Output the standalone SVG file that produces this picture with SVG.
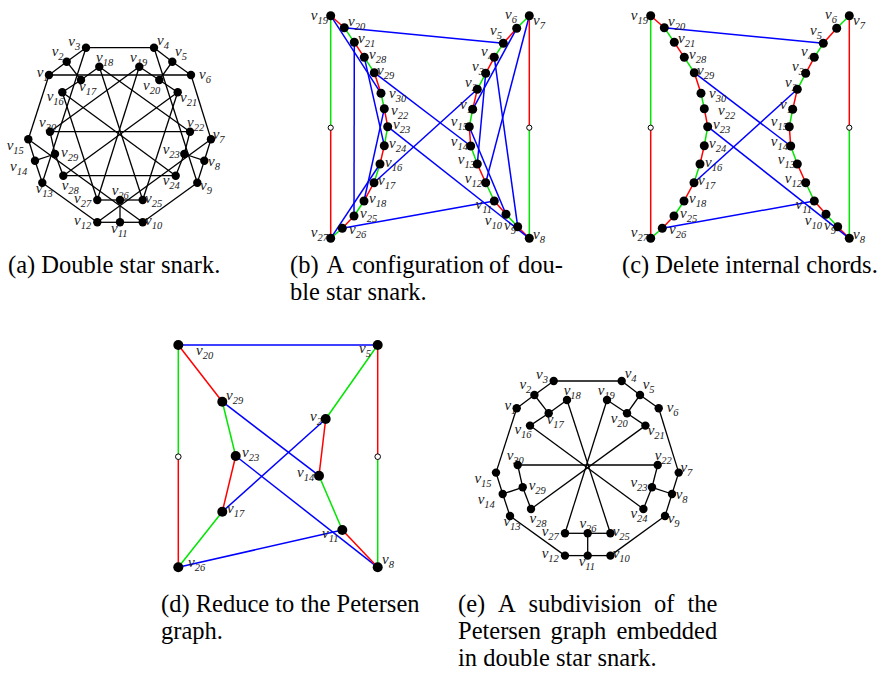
<svg xmlns="http://www.w3.org/2000/svg" width="882" height="677" viewBox="0 0 882 677">
<style>
.k line{stroke:#000;stroke-width:1.3}
.r{stroke:#ff0000;stroke-width:1.5}
.g{stroke:#00e600;stroke-width:1.5}
.b{stroke:#0000ff;stroke-width:1.5}
.n{fill:#000}
.nd{fill:#000}
.w{fill:#fff;stroke:#000;stroke-width:1}
.lb{font-family:"Liberation Serif","Times New Roman",serif;font-style:italic;font-size:15px;fill:#1a1a1a}
.sb{font-size:10.5px}
.le{text-anchor:end}
.cap{font-family:"Liberation Serif","Times New Roman",serif;font-size:24.5px;fill:#000}
</style>
<rect width="882" height="677" fill="#fff"/>

<!-- ============ (a) ============ -->
<g id="diagram-a">
<g id="a-edges" class="k">
<line x1="49" y1="75" x2="66.7" y2="61.7"/><line x1="66.7" y1="61.7" x2="86" y2="47.7"/><line x1="86" y1="47.7" x2="154" y2="47.7"/><line x1="154" y1="47.7" x2="172.3" y2="61.7"/><line x1="172.3" y1="61.7" x2="191" y2="75"/><line x1="191" y1="75" x2="211" y2="139.3"/><line x1="211" y1="139.3" x2="204.3" y2="160.7"/><line x1="204.3" y1="160.7" x2="197.3" y2="182.7"/><line x1="197.3" y1="182.7" x2="142.7" y2="222.3"/><line x1="142.7" y1="222.3" x2="120" y2="222.3"/><line x1="120" y1="222.3" x2="97.3" y2="222.3"/><line x1="97.3" y1="222.3" x2="42.3" y2="182.7"/><line x1="42.3" y1="182.7" x2="35" y2="160.7"/><line x1="35" y1="160.7" x2="28.3" y2="139.3"/><line x1="28.3" y1="139.3" x2="49" y2="75"/>
<line x1="66.7" y1="61.7" x2="81" y2="80"/><line x1="172.3" y1="61.7" x2="159.3" y2="80"/><line x1="204.3" y1="160.7" x2="184.3" y2="154"/><line x1="120" y1="222.3" x2="120" y2="200"/><line x1="35" y1="160.7" x2="55" y2="154"/>
<line x1="81" y1="80" x2="62.3" y2="92.3"/><line x1="81" y1="80" x2="99.3" y2="66.7"/><line x1="159.3" y1="80" x2="139.3" y2="66.7"/><line x1="159.3" y1="80" x2="177.7" y2="92.3"/><line x1="184.3" y1="154" x2="190" y2="131.7"/><line x1="184.3" y1="154" x2="175.7" y2="175.7"/><line x1="120" y1="200" x2="142.7" y2="200"/><line x1="120" y1="200" x2="97.3" y2="200"/><line x1="55" y1="154" x2="63.3" y2="175.7"/><line x1="55" y1="154" x2="50" y2="131.7"/>
<line x1="99.3" y1="66.7" x2="142.7" y2="200"/><line x1="177.7" y1="92.3" x2="63.3" y2="175.7"/><line x1="175.7" y1="175.7" x2="62.3" y2="92.3"/><line x1="97.3" y1="200" x2="139.3" y2="66.7"/><line x1="50" y1="131.7" x2="190" y2="131.7"/>
<line x1="49" y1="75" x2="191" y2="75"/><line x1="154" y1="47.7" x2="197.3" y2="182.7"/><line x1="211" y1="139.3" x2="97.3" y2="222.3"/><line x1="142.7" y1="222.3" x2="28.3" y2="139.3"/><line x1="42.3" y1="182.7" x2="86" y2="47.7"/><line x1="62.3" y1="92.3" x2="97.3" y2="200"/><line x1="139.3" y1="66.7" x2="50" y2="131.7"/><line x1="190" y1="131.7" x2="99.3" y2="66.7"/><line x1="142.7" y1="200" x2="177.7" y2="92.3"/><line x1="63.3" y1="175.7" x2="175.7" y2="175.7"/>
</g>
<g id="a-v1"><text class="lb" x="36.7" y="77">v<tspan class="sb" dy="4">1</tspan></text><circle class="n" cx="49" cy="75" r="4.2"/></g>
<g id="a-v2"><text class="lb" x="51.7" y="56">v<tspan class="sb" dy="4">2</tspan></text><circle class="n" cx="66.7" cy="61.7" r="4.2"/></g>
<g id="a-v3"><text class="lb" x="68.3" y="46">v<tspan class="sb" dy="4">3</tspan></text><circle class="n" cx="86" cy="47.7" r="4.2"/></g>
<g id="a-v4"><text class="lb" x="157" y="45">v<tspan class="sb" dy="4">4</tspan></text><circle class="n" cx="154" cy="47.7" r="4.2"/></g>
<g id="a-v5"><text class="lb" x="175" y="56">v<tspan class="sb" dy="4">5</tspan></text><circle class="n" cx="172.3" cy="61.7" r="4.2"/></g>
<g id="a-v6"><text class="lb" x="199" y="79">v<tspan class="sb" dy="4">6</tspan></text><circle class="n" cx="191" cy="75" r="4.2"/></g>
<g id="a-v7"><text class="lb" x="212.7" y="139">v<tspan class="sb" dy="4">7</tspan></text><circle class="n" cx="211" cy="139.3" r="4.2"/></g>
<g id="a-v8"><text class="lb" x="208" y="166">v<tspan class="sb" dy="4">8</tspan></text><circle class="n" cx="204.3" cy="160.7" r="4.2"/></g>
<g id="a-v9"><text class="lb" x="200" y="190">v<tspan class="sb" dy="4">9</tspan></text><circle class="n" cx="197.3" cy="182.7" r="4.2"/></g>
<g id="a-v10"><text class="lb" x="145" y="225">v<tspan class="sb" dy="4">10</tspan></text><circle class="n" cx="142.7" cy="222.3" r="4.2"/></g>
<g id="a-v11"><text class="lb" x="111" y="233">v<tspan class="sb" dy="4">11</tspan></text><circle class="n" cx="120" cy="222.3" r="4.2"/></g>
<g id="a-v12"><text class="lb" x="74" y="225">v<tspan class="sb" dy="4">12</tspan></text><circle class="n" cx="97.3" cy="222.3" r="4.2"/></g>
<g id="a-v13"><text class="lb" x="35.7" y="193">v<tspan class="sb" dy="4">13</tspan></text><circle class="n" cx="42.3" cy="182.7" r="4.2"/></g>
<g id="a-v14"><text class="lb" x="10" y="171">v<tspan class="sb" dy="4">14</tspan></text><circle class="n" cx="35" cy="160.7" r="4.2"/></g>
<g id="a-v15"><text class="lb" x="6.7" y="149.5">v<tspan class="sb" dy="4">15</tspan></text><circle class="n" cx="28.3" cy="139.3" r="4.2"/></g>
<g id="a-v16"><text class="lb" x="46.7" y="101">v<tspan class="sb" dy="4">16</tspan></text><circle class="n" cx="62.3" cy="92.3" r="4.2"/></g>
<g id="a-v17"><text class="lb" x="79" y="91">v<tspan class="sb" dy="4">17</tspan></text><circle class="n" cx="81" cy="80" r="4.2"/></g>
<g id="a-v18"><text class="lb" x="96" y="62">v<tspan class="sb" dy="4">18</tspan></text><circle class="n" cx="99.3" cy="66.7" r="4.2"/></g>
<g id="a-v19"><text class="lb" x="130" y="62">v<tspan class="sb" dy="4">19</tspan></text><circle class="n" cx="139.3" cy="66.7" r="4.2"/></g>
<g id="a-v20"><text class="lb" x="143" y="90">v<tspan class="sb" dy="4">20</tspan></text><circle class="n" cx="159.3" cy="80" r="4.2"/></g>
<g id="a-v21"><text class="lb" x="180" y="102">v<tspan class="sb" dy="4">21</tspan></text><circle class="n" cx="177.7" cy="92.3" r="4.2"/></g>
<g id="a-v22"><text class="lb" x="187" y="127">v<tspan class="sb" dy="4">22</tspan></text><circle class="n" cx="190" cy="131.7" r="4.2"/></g>
<g id="a-v23"><text class="lb" x="162.7" y="154">v<tspan class="sb" dy="4">23</tspan></text><circle class="n" cx="184.3" cy="154" r="4.2"/></g>
<g id="a-v24"><text class="lb" x="162.7" y="185">v<tspan class="sb" dy="4">24</tspan></text><circle class="n" cx="175.7" cy="175.7" r="4.2"/></g>
<g id="a-v25"><text class="lb" x="145" y="203">v<tspan class="sb" dy="4">25</tspan></text><circle class="n" cx="142.7" cy="200" r="4.2"/></g>
<g id="a-v26"><text class="lb" x="111.7" y="194.5">v<tspan class="sb" dy="4">26</tspan></text><circle class="n" cx="120" cy="200" r="4.2"/></g>
<g id="a-v27"><text class="lb" x="74" y="203">v<tspan class="sb" dy="4">27</tspan></text><circle class="n" cx="97.3" cy="200" r="4.2"/></g>
<g id="a-v28"><text class="lb" x="61.7" y="189.5">v<tspan class="sb" dy="4">28</tspan></text><circle class="n" cx="63.3" cy="175.7" r="4.2"/></g>
<g id="a-v29"><text class="lb" x="61" y="157">v<tspan class="sb" dy="4">29</tspan></text><circle class="n" cx="55" cy="154" r="4.2"/></g>
<g id="a-v30"><text class="lb" x="39" y="127">v<tspan class="sb" dy="4">30</tspan></text><circle class="n" cx="50" cy="131.7" r="4.2"/></g>
</g>

<!-- ============ (e) ============ -->
<g id="diagram-e" transform="translate(467.7,333.3)">
<g id="e-edges" class="k">
<line x1="49" y1="75" x2="66.7" y2="61.7"/><line x1="66.7" y1="61.7" x2="86" y2="47.7"/><line x1="86" y1="47.7" x2="154" y2="47.7"/><line x1="154" y1="47.7" x2="172.3" y2="61.7"/><line x1="172.3" y1="61.7" x2="191" y2="75"/><line x1="191" y1="75" x2="211" y2="139.3"/><line x1="211" y1="139.3" x2="204.3" y2="160.7"/><line x1="204.3" y1="160.7" x2="197.3" y2="182.7"/><line x1="197.3" y1="182.7" x2="142.7" y2="222.3"/><line x1="142.7" y1="222.3" x2="120" y2="222.3"/><line x1="120" y1="222.3" x2="97.3" y2="222.3"/><line x1="97.3" y1="222.3" x2="42.3" y2="182.7"/><line x1="42.3" y1="182.7" x2="35" y2="160.7"/><line x1="35" y1="160.7" x2="28.3" y2="139.3"/><line x1="28.3" y1="139.3" x2="49" y2="75"/>
<line x1="66.7" y1="61.7" x2="81" y2="80"/><line x1="172.3" y1="61.7" x2="159.3" y2="80"/><line x1="204.3" y1="160.7" x2="184.3" y2="154"/><line x1="120" y1="222.3" x2="120" y2="200"/><line x1="35" y1="160.7" x2="55" y2="154"/>
<line x1="81" y1="80" x2="62.3" y2="92.3"/><line x1="81" y1="80" x2="99.3" y2="66.7"/><line x1="159.3" y1="80" x2="139.3" y2="66.7"/><line x1="159.3" y1="80" x2="177.7" y2="92.3"/><line x1="184.3" y1="154" x2="190" y2="131.7"/><line x1="184.3" y1="154" x2="175.7" y2="175.7"/><line x1="120" y1="200" x2="142.7" y2="200"/><line x1="120" y1="200" x2="97.3" y2="200"/><line x1="55" y1="154" x2="63.3" y2="175.7"/><line x1="55" y1="154" x2="50" y2="131.7"/>
<line x1="99.3" y1="66.7" x2="142.7" y2="200"/><line x1="177.7" y1="92.3" x2="63.3" y2="175.7"/><line x1="175.7" y1="175.7" x2="62.3" y2="92.3"/><line x1="97.3" y1="200" x2="139.3" y2="66.7"/><line x1="50" y1="131.7" x2="190" y2="131.7"/>
</g>
<g id="e-v1"><text class="lb" x="36.7" y="77">v<tspan class="sb" dy="4">1</tspan></text><circle class="n" cx="49" cy="75" r="4.2"/></g>
<g id="e-v2"><text class="lb" x="51.7" y="56">v<tspan class="sb" dy="4">2</tspan></text><circle class="n" cx="66.7" cy="61.7" r="4.2"/></g>
<g id="e-v3"><text class="lb" x="68.3" y="46">v<tspan class="sb" dy="4">3</tspan></text><circle class="n" cx="86" cy="47.7" r="4.2"/></g>
<g id="e-v4"><text class="lb" x="157" y="45">v<tspan class="sb" dy="4">4</tspan></text><circle class="n" cx="154" cy="47.7" r="4.2"/></g>
<g id="e-v5"><text class="lb" x="175" y="56">v<tspan class="sb" dy="4">5</tspan></text><circle class="n" cx="172.3" cy="61.7" r="4.2"/></g>
<g id="e-v6"><text class="lb" x="199" y="79">v<tspan class="sb" dy="4">6</tspan></text><circle class="n" cx="191" cy="75" r="4.2"/></g>
<g id="e-v7"><text class="lb" x="212.7" y="139">v<tspan class="sb" dy="4">7</tspan></text><circle class="n" cx="211" cy="139.3" r="4.2"/></g>
<g id="e-v8"><text class="lb" x="208" y="166">v<tspan class="sb" dy="4">8</tspan></text><circle class="n" cx="204.3" cy="160.7" r="4.2"/></g>
<g id="e-v9"><text class="lb" x="200" y="190">v<tspan class="sb" dy="4">9</tspan></text><circle class="n" cx="197.3" cy="182.7" r="4.2"/></g>
<g id="e-v10"><text class="lb" x="145" y="225">v<tspan class="sb" dy="4">10</tspan></text><circle class="n" cx="142.7" cy="222.3" r="4.2"/></g>
<g id="e-v11"><text class="lb" x="111" y="233">v<tspan class="sb" dy="4">11</tspan></text><circle class="n" cx="120" cy="222.3" r="4.2"/></g>
<g id="e-v12"><text class="lb" x="74" y="225">v<tspan class="sb" dy="4">12</tspan></text><circle class="n" cx="97.3" cy="222.3" r="4.2"/></g>
<g id="e-v13"><text class="lb" x="35.7" y="193">v<tspan class="sb" dy="4">13</tspan></text><circle class="n" cx="42.3" cy="182.7" r="4.2"/></g>
<g id="e-v14"><text class="lb" x="10" y="171">v<tspan class="sb" dy="4">14</tspan></text><circle class="n" cx="35" cy="160.7" r="4.2"/></g>
<g id="e-v15"><text class="lb" x="6.7" y="149.5">v<tspan class="sb" dy="4">15</tspan></text><circle class="n" cx="28.3" cy="139.3" r="4.2"/></g>
<g id="e-v16"><text class="lb" x="46.7" y="101">v<tspan class="sb" dy="4">16</tspan></text><circle class="n" cx="62.3" cy="92.3" r="4.2"/></g>
<g id="e-v17"><text class="lb" x="79" y="91">v<tspan class="sb" dy="4">17</tspan></text><circle class="n" cx="81" cy="80" r="4.2"/></g>
<g id="e-v18"><text class="lb" x="96" y="62">v<tspan class="sb" dy="4">18</tspan></text><circle class="n" cx="99.3" cy="66.7" r="4.2"/></g>
<g id="e-v19"><text class="lb" x="130" y="62">v<tspan class="sb" dy="4">19</tspan></text><circle class="n" cx="139.3" cy="66.7" r="4.2"/></g>
<g id="e-v20"><text class="lb" x="143" y="90">v<tspan class="sb" dy="4">20</tspan></text><circle class="n" cx="159.3" cy="80" r="4.2"/></g>
<g id="e-v21"><text class="lb" x="180" y="102">v<tspan class="sb" dy="4">21</tspan></text><circle class="n" cx="177.7" cy="92.3" r="4.2"/></g>
<g id="e-v22"><text class="lb" x="187" y="127">v<tspan class="sb" dy="4">22</tspan></text><circle class="n" cx="190" cy="131.7" r="4.2"/></g>
<g id="e-v23"><text class="lb" x="162.7" y="154">v<tspan class="sb" dy="4">23</tspan></text><circle class="n" cx="184.3" cy="154" r="4.2"/></g>
<g id="e-v24"><text class="lb" x="162.7" y="185">v<tspan class="sb" dy="4">24</tspan></text><circle class="n" cx="175.7" cy="175.7" r="4.2"/></g>
<g id="e-v25"><text class="lb" x="145" y="203">v<tspan class="sb" dy="4">25</tspan></text><circle class="n" cx="142.7" cy="200" r="4.2"/></g>
<g id="e-v26"><text class="lb" x="111.7" y="194.5">v<tspan class="sb" dy="4">26</tspan></text><circle class="n" cx="120" cy="200" r="4.2"/></g>
<g id="e-v27"><text class="lb" x="74" y="203">v<tspan class="sb" dy="4">27</tspan></text><circle class="n" cx="97.3" cy="200" r="4.2"/></g>
<g id="e-v28"><text class="lb" x="61.7" y="189.5">v<tspan class="sb" dy="4">28</tspan></text><circle class="n" cx="63.3" cy="175.7" r="4.2"/></g>
<g id="e-v29"><text class="lb" x="61" y="157">v<tspan class="sb" dy="4">29</tspan></text><circle class="n" cx="55" cy="154" r="4.2"/></g>
<g id="e-v30"><text class="lb" x="39" y="127">v<tspan class="sb" dy="4">30</tspan></text><circle class="n" cx="50" cy="131.7" r="4.2"/></g>
</g>

<!-- ============ (b) ============ -->
<g id="diagram-b">
<g id="b-edges">
<line class="r" x1="330.7" y1="15.7" x2="344.3" y2="27.7"/><line class="g" x1="344.3" y1="27.7" x2="354.3" y2="42.3"/><line class="r" x1="354.3" y1="42.3" x2="364.3" y2="57.3"/><line class="g" x1="364.3" y1="57.3" x2="374.3" y2="72.7"/><line class="r" x1="374.3" y1="72.7" x2="381" y2="93.3"/><line class="g" x1="381" y1="93.3" x2="384.3" y2="108.7"/><line class="r" x1="384.3" y1="108.7" x2="387.7" y2="126.7"/><line class="g" x1="387.7" y1="126.7" x2="384.3" y2="145.7"/><line class="r" x1="384.3" y1="145.7" x2="380" y2="164"/><line class="g" x1="380" y1="164" x2="374" y2="182.7"/><line class="r" x1="374" y1="182.7" x2="364" y2="201"/><line class="g" x1="364" y1="201" x2="354" y2="216"/><line class="r" x1="354" y1="216" x2="342.3" y2="228.3"/><line class="g" x1="342.3" y1="228.3" x2="330.7" y2="238.3"/><line class="r" x1="330.7" y1="238.3" x2="330.7" y2="127.7"/><line class="g" x1="330.7" y1="127.7" x2="330.7" y2="15.7"/>
<line class="g" x1="529.3" y1="15.7" x2="516.7" y2="28.3"/><line class="r" x1="516.7" y1="28.3" x2="503.3" y2="43.3"/><line class="g" x1="503.3" y1="43.3" x2="494.3" y2="57.3"/><line class="r" x1="494.3" y1="57.3" x2="485.7" y2="73.3"/><line class="g" x1="485.7" y1="73.3" x2="477.3" y2="89.3"/><line class="r" x1="477.3" y1="89.3" x2="472.7" y2="109.3"/><line class="g" x1="472.7" y1="109.3" x2="469.3" y2="126.7"/><line class="r" x1="469.3" y1="126.7" x2="470.7" y2="146"/><line class="g" x1="470.7" y1="146" x2="477.3" y2="164"/><line class="r" x1="477.3" y1="164" x2="485.7" y2="182.7"/><line class="g" x1="485.7" y1="182.7" x2="494.3" y2="201"/><line class="r" x1="494.3" y1="201" x2="506" y2="214.3"/><line class="g" x1="506" y1="214.3" x2="517.7" y2="226.7"/><line class="r" x1="517.7" y1="226.7" x2="529.3" y2="238.3"/><line class="g" x1="529.3" y1="238.3" x2="529.3" y2="127.7"/><line class="r" x1="529.3" y1="127.7" x2="529.3" y2="15.7"/>
<line class="b" x1="344.3" y1="27.7" x2="503.3" y2="43.3"/><line class="b" x1="374.3" y1="72.7" x2="470.7" y2="146"/><line class="b" x1="387.7" y1="126.7" x2="529.3" y2="238.3"/><line class="b" x1="374" y1="182.7" x2="477.3" y2="89.3"/><line class="b" x1="342.3" y1="228.3" x2="494.3" y2="201"/>
<line class="b" x1="330.7" y1="15.7" x2="381" y2="93.3"/><line class="b" x1="354.3" y1="42.3" x2="354" y2="216"/><line class="b" x1="364.3" y1="57.3" x2="384.3" y2="145.7"/><line class="b" x1="384.3" y1="108.7" x2="364" y2="201"/><line class="b" x1="380" y1="164" x2="330.7" y2="238.3"/>
<line class="b" x1="516.7" y1="28.3" x2="472.7" y2="109.3"/><line class="b" x1="494.3" y1="57.3" x2="517.7" y2="226.7"/><line class="b" x1="485.7" y1="73.3" x2="477.3" y2="164"/><line class="b" x1="529.3" y1="15.7" x2="485.7" y2="182.7"/><line class="b" x1="469.3" y1="126.7" x2="506" y2="214.3"/>
</g>
<g id="b-w1"><circle class="w" cx="330.7" cy="127.7" r="2.6"/></g>
<g id="b-w2"><circle class="w" cx="529.3" cy="127.7" r="2.6"/></g>
<g id="b-v19"><text class="lb le" x="328" y="20">v<tspan class="sb" dy="4">19</tspan></text><circle class="n" cx="330.7" cy="15.7" r="4.5"/></g>
<g id="b-v20"><text class="lb" x="348" y="26">v<tspan class="sb" dy="4">20</tspan></text><circle class="n" cx="344.3" cy="27.7" r="4.5"/></g>
<g id="b-v21"><text class="lb" x="358" y="43">v<tspan class="sb" dy="4">21</tspan></text><circle class="n" cx="354.3" cy="42.3" r="4.5"/></g>
<g id="b-v28"><text class="lb" x="369" y="59">v<tspan class="sb" dy="4">28</tspan></text><circle class="n" cx="364.3" cy="57.3" r="4.5"/></g>
<g id="b-v29"><text class="lb" x="377" y="75">v<tspan class="sb" dy="4">29</tspan></text><circle class="n" cx="374.3" cy="72.7" r="4.5"/></g>
<g id="b-v30"><text class="lb" x="389" y="98">v<tspan class="sb" dy="4">30</tspan></text><circle class="n" cx="381" cy="93.3" r="4.5"/></g>
<g id="b-v22"><text class="lb" x="391" y="115">v<tspan class="sb" dy="4">22</tspan></text><circle class="n" cx="384.3" cy="108.7" r="4.5"/></g>
<g id="b-v23"><text class="lb" x="393" y="129">v<tspan class="sb" dy="4">23</tspan></text><circle class="n" cx="387.7" cy="126.7" r="4.5"/></g>
<g id="b-v24"><text class="lb" x="389" y="148">v<tspan class="sb" dy="4">24</tspan></text><circle class="n" cx="384.3" cy="145.7" r="4.5"/></g>
<g id="b-v16"><text class="lb" x="385" y="167">v<tspan class="sb" dy="4">16</tspan></text><circle class="n" cx="380" cy="164" r="4.5"/></g>
<g id="b-v17"><text class="lb" x="378" y="185">v<tspan class="sb" dy="4">17</tspan></text><circle class="n" cx="374" cy="182.7" r="4.5"/></g>
<g id="b-v18"><text class="lb" x="369" y="203">v<tspan class="sb" dy="4">18</tspan></text><circle class="n" cx="364" cy="201" r="4.5"/></g>
<g id="b-v25"><text class="lb" x="360" y="218">v<tspan class="sb" dy="4">25</tspan></text><circle class="n" cx="354" cy="216" r="4.5"/></g>
<g id="b-v26"><text class="lb" x="349" y="234">v<tspan class="sb" dy="4">26</tspan></text><circle class="n" cx="342.3" cy="228.3" r="4.5"/></g>
<g id="b-v27"><text class="lb le" x="328" y="237">v<tspan class="sb" dy="4">27</tspan></text><circle class="n" cx="330.7" cy="238.3" r="4.5"/></g>
<g id="b-v7"><text class="lb" x="533" y="25">v<tspan class="sb" dy="4">7</tspan></text><circle class="n" cx="529.3" cy="15.7" r="4.5"/></g>
<g id="b-v6"><text class="lb le" x="517" y="19">v<tspan class="sb" dy="4">6</tspan></text><circle class="n" cx="516.7" cy="28.3" r="4.5"/></g>
<g id="b-v5"><text class="lb le" x="502" y="35">v<tspan class="sb" dy="4">5</tspan></text><circle class="n" cx="503.3" cy="43.3" r="4.5"/></g>
<g id="b-v4"><text class="lb le" x="493" y="56">v<tspan class="sb" dy="4">4</tspan></text><circle class="n" cx="494.3" cy="57.3" r="4.5"/></g>
<g id="b-v3"><text class="lb le" x="484" y="71">v<tspan class="sb" dy="4">3</tspan></text><circle class="n" cx="485.7" cy="73.3" r="4.5"/></g>
<g id="b-v2"><text class="lb le" x="477" y="87">v<tspan class="sb" dy="4">2</tspan></text><circle class="n" cx="477.3" cy="89.3" r="4.5"/></g>
<g id="b-v1"><text class="lb le" x="472" y="109">v<tspan class="sb" dy="4">1</tspan></text><circle class="n" cx="472.7" cy="109.3" r="4.5"/></g>
<g id="b-v15"><text class="lb le" x="468" y="126">v<tspan class="sb" dy="4">15</tspan></text><circle class="n" cx="469.3" cy="126.7" r="4.5"/></g>
<g id="b-v14"><text class="lb le" x="468" y="146">v<tspan class="sb" dy="4">14</tspan></text><circle class="n" cx="470.7" cy="146" r="4.5"/></g>
<g id="b-v13"><text class="lb le" x="475" y="164">v<tspan class="sb" dy="4">13</tspan></text><circle class="n" cx="477.3" cy="164" r="4.5"/></g>
<g id="b-v12"><text class="lb le" x="482" y="183">v<tspan class="sb" dy="4">12</tspan></text><circle class="n" cx="485.7" cy="182.7" r="4.5"/></g>
<g id="b-v11"><text class="lb le" x="492" y="209">v<tspan class="sb" dy="4">11</tspan></text><circle class="n" cx="494.3" cy="201" r="4.5"/></g>
<g id="b-v10"><text class="lb le" x="502" y="225">v<tspan class="sb" dy="4">10</tspan></text><circle class="n" cx="506" cy="214.3" r="4.5"/></g>
<g id="b-v9"><text class="lb le" x="516" y="230">v<tspan class="sb" dy="4">9</tspan></text><circle class="n" cx="517.7" cy="226.7" r="4.5"/></g>
<g id="b-v8"><text class="lb" x="533" y="239">v<tspan class="sb" dy="4">8</tspan></text><circle class="n" cx="529.3" cy="238.3" r="4.5"/></g>
</g>

<!-- ============ (c) ============ -->
<g id="diagram-c" transform="translate(320,0)">
<g id="c-edges">
<line class="r" x1="330.7" y1="15.7" x2="344.3" y2="27.7"/><line class="g" x1="344.3" y1="27.7" x2="354.3" y2="42.3"/><line class="r" x1="354.3" y1="42.3" x2="364.3" y2="57.3"/><line class="g" x1="364.3" y1="57.3" x2="374.3" y2="72.7"/><line class="r" x1="374.3" y1="72.7" x2="381" y2="93.3"/><line class="g" x1="381" y1="93.3" x2="384.3" y2="108.7"/><line class="r" x1="384.3" y1="108.7" x2="387.7" y2="126.7"/><line class="g" x1="387.7" y1="126.7" x2="384.3" y2="145.7"/><line class="r" x1="384.3" y1="145.7" x2="380" y2="164"/><line class="g" x1="380" y1="164" x2="374" y2="182.7"/><line class="r" x1="374" y1="182.7" x2="364" y2="201"/><line class="g" x1="364" y1="201" x2="354" y2="216"/><line class="r" x1="354" y1="216" x2="342.3" y2="228.3"/><line class="g" x1="342.3" y1="228.3" x2="330.7" y2="238.3"/><line class="r" x1="330.7" y1="238.3" x2="330.7" y2="127.7"/><line class="g" x1="330.7" y1="127.7" x2="330.7" y2="15.7"/>
<line class="g" x1="529.3" y1="15.7" x2="516.7" y2="28.3"/><line class="r" x1="516.7" y1="28.3" x2="503.3" y2="43.3"/><line class="g" x1="503.3" y1="43.3" x2="494.3" y2="57.3"/><line class="r" x1="494.3" y1="57.3" x2="485.7" y2="73.3"/><line class="g" x1="485.7" y1="73.3" x2="477.3" y2="89.3"/><line class="r" x1="477.3" y1="89.3" x2="472.7" y2="109.3"/><line class="g" x1="472.7" y1="109.3" x2="469.3" y2="126.7"/><line class="r" x1="469.3" y1="126.7" x2="470.7" y2="146"/><line class="g" x1="470.7" y1="146" x2="477.3" y2="164"/><line class="r" x1="477.3" y1="164" x2="485.7" y2="182.7"/><line class="g" x1="485.7" y1="182.7" x2="494.3" y2="201"/><line class="r" x1="494.3" y1="201" x2="506" y2="214.3"/><line class="g" x1="506" y1="214.3" x2="517.7" y2="226.7"/><line class="r" x1="517.7" y1="226.7" x2="529.3" y2="238.3"/><line class="g" x1="529.3" y1="238.3" x2="529.3" y2="127.7"/><line class="r" x1="529.3" y1="127.7" x2="529.3" y2="15.7"/>
<line class="b" x1="344.3" y1="27.7" x2="503.3" y2="43.3"/><line class="b" x1="374.3" y1="72.7" x2="470.7" y2="146"/><line class="b" x1="387.7" y1="126.7" x2="529.3" y2="238.3"/><line class="b" x1="374" y1="182.7" x2="477.3" y2="89.3"/><line class="b" x1="342.3" y1="228.3" x2="494.3" y2="201"/>
</g>
<g id="c-w1"><circle class="w" cx="330.7" cy="127.7" r="2.6"/></g>
<g id="c-w2"><circle class="w" cx="529.3" cy="127.7" r="2.6"/></g>
<g id="c-v19"><text class="lb le" x="328" y="20">v<tspan class="sb" dy="4">19</tspan></text><circle class="n" cx="330.7" cy="15.7" r="4.5"/></g>
<g id="c-v20"><text class="lb" x="348" y="26">v<tspan class="sb" dy="4">20</tspan></text><circle class="n" cx="344.3" cy="27.7" r="4.5"/></g>
<g id="c-v21"><text class="lb" x="358" y="43">v<tspan class="sb" dy="4">21</tspan></text><circle class="n" cx="354.3" cy="42.3" r="4.5"/></g>
<g id="c-v28"><text class="lb" x="369" y="59">v<tspan class="sb" dy="4">28</tspan></text><circle class="n" cx="364.3" cy="57.3" r="4.5"/></g>
<g id="c-v29"><text class="lb" x="377" y="75">v<tspan class="sb" dy="4">29</tspan></text><circle class="n" cx="374.3" cy="72.7" r="4.5"/></g>
<g id="c-v30"><text class="lb" x="389" y="98">v<tspan class="sb" dy="4">30</tspan></text><circle class="n" cx="381" cy="93.3" r="4.5"/></g>
<g id="c-v22"><text class="lb" x="398" y="115">v<tspan class="sb" dy="4">22</tspan></text><circle class="n" cx="384.3" cy="108.7" r="4.5"/></g>
<g id="c-v23"><text class="lb" x="393" y="129">v<tspan class="sb" dy="4">23</tspan></text><circle class="n" cx="387.7" cy="126.7" r="4.5"/></g>
<g id="c-v24"><text class="lb" x="389" y="148">v<tspan class="sb" dy="4">24</tspan></text><circle class="n" cx="384.3" cy="145.7" r="4.5"/></g>
<g id="c-v16"><text class="lb" x="385" y="167">v<tspan class="sb" dy="4">16</tspan></text><circle class="n" cx="380" cy="164" r="4.5"/></g>
<g id="c-v17"><text class="lb" x="378" y="185">v<tspan class="sb" dy="4">17</tspan></text><circle class="n" cx="374" cy="182.7" r="4.5"/></g>
<g id="c-v18"><text class="lb" x="369" y="203">v<tspan class="sb" dy="4">18</tspan></text><circle class="n" cx="364" cy="201" r="4.5"/></g>
<g id="c-v25"><text class="lb" x="360" y="218">v<tspan class="sb" dy="4">25</tspan></text><circle class="n" cx="354" cy="216" r="4.5"/></g>
<g id="c-v26"><text class="lb" x="349" y="234">v<tspan class="sb" dy="4">26</tspan></text><circle class="n" cx="342.3" cy="228.3" r="4.5"/></g>
<g id="c-v27"><text class="lb le" x="328" y="237">v<tspan class="sb" dy="4">27</tspan></text><circle class="n" cx="330.7" cy="238.3" r="4.5"/></g>
<g id="c-v7"><text class="lb" x="533" y="25">v<tspan class="sb" dy="4">7</tspan></text><circle class="n" cx="529.3" cy="15.7" r="4.5"/></g>
<g id="c-v6"><text class="lb le" x="517" y="19">v<tspan class="sb" dy="4">6</tspan></text><circle class="n" cx="516.7" cy="28.3" r="4.5"/></g>
<g id="c-v5"><text class="lb le" x="502" y="35">v<tspan class="sb" dy="4">5</tspan></text><circle class="n" cx="503.3" cy="43.3" r="4.5"/></g>
<g id="c-v4"><text class="lb le" x="493" y="56">v<tspan class="sb" dy="4">4</tspan></text><circle class="n" cx="494.3" cy="57.3" r="4.5"/></g>
<g id="c-v3"><text class="lb le" x="484" y="71">v<tspan class="sb" dy="4">3</tspan></text><circle class="n" cx="485.7" cy="73.3" r="4.5"/></g>
<g id="c-v2"><text class="lb le" x="477" y="87">v<tspan class="sb" dy="4">2</tspan></text><circle class="n" cx="477.3" cy="89.3" r="4.5"/></g>
<g id="c-v1"><text class="lb le" x="472" y="109">v<tspan class="sb" dy="4">1</tspan></text><circle class="n" cx="472.7" cy="109.3" r="4.5"/></g>
<g id="c-v15"><text class="lb le" x="468" y="126">v<tspan class="sb" dy="4">15</tspan></text><circle class="n" cx="469.3" cy="126.7" r="4.5"/></g>
<g id="c-v14"><text class="lb le" x="468" y="146">v<tspan class="sb" dy="4">14</tspan></text><circle class="n" cx="470.7" cy="146" r="4.5"/></g>
<g id="c-v13"><text class="lb le" x="475" y="164">v<tspan class="sb" dy="4">13</tspan></text><circle class="n" cx="477.3" cy="164" r="4.5"/></g>
<g id="c-v12"><text class="lb le" x="482" y="183">v<tspan class="sb" dy="4">12</tspan></text><circle class="n" cx="485.7" cy="182.7" r="4.5"/></g>
<g id="c-v11"><text class="lb le" x="492" y="209">v<tspan class="sb" dy="4">11</tspan></text><circle class="n" cx="494.3" cy="201" r="4.5"/></g>
<g id="c-v10"><text class="lb le" x="502" y="225">v<tspan class="sb" dy="4">10</tspan></text><circle class="n" cx="506" cy="214.3" r="4.5"/></g>
<g id="c-v9"><text class="lb le" x="516" y="230">v<tspan class="sb" dy="4">9</tspan></text><circle class="n" cx="517.7" cy="226.7" r="4.5"/></g>
<g id="c-v8"><text class="lb" x="533" y="239">v<tspan class="sb" dy="4">8</tspan></text><circle class="n" cx="529.3" cy="238.3" r="4.5"/></g>
</g>

<!-- ============ (d) ============ -->
<g id="diagram-d">
<g id="d-edges">
<line class="b" x1="178.3" y1="345" x2="377.7" y2="345"/>
<line class="g" x1="178.3" y1="345" x2="178.3" y2="456.7"/><line class="r" x1="178.3" y1="456.7" x2="178.3" y2="567.3"/>
<line class="r" x1="377.7" y1="345" x2="377.7" y2="456.7"/><line class="g" x1="377.7" y1="456.7" x2="377.7" y2="567.3"/>
<line class="r" x1="178.3" y1="345" x2="222.3" y2="401.7"/>
<line class="g" x1="377.7" y1="345" x2="325.7" y2="419"/>
<line class="g" x1="222.3" y1="401.7" x2="235.7" y2="456"/>
<line class="b" x1="222.3" y1="401.7" x2="319" y2="475.7"/>
<line class="r" x1="325.7" y1="419" x2="319" y2="475.7"/>
<line class="b" x1="325.7" y1="419" x2="222.3" y2="511.7"/>
<line class="r" x1="235.7" y1="456" x2="222.3" y2="511.7"/>
<line class="b" x1="235.7" y1="456" x2="377.7" y2="567.3"/>
<line class="g" x1="319" y1="475.7" x2="342.3" y2="530"/>
<line class="g" x1="222.3" y1="511.7" x2="178.3" y2="567.3"/>
<line class="r" x1="342.3" y1="530" x2="377.7" y2="567.3"/>
<line class="b" x1="178.3" y1="567.3" x2="342.3" y2="530"/>
</g>
<g id="d-w1"><circle class="w" cx="178.3" cy="456.7" r="2.8"/></g>
<g id="d-w2"><circle class="w" cx="377.7" cy="456.7" r="2.8"/></g>
<g id="d-v20"><text class="lb" x="196" y="355">v<tspan class="sb" dy="4">20</tspan></text><circle class="n" cx="178.3" cy="345" r="5"/></g>
<g id="d-v5"><text class="lb" x="359" y="353">v<tspan class="sb" dy="4">5</tspan></text><circle class="n" cx="377.7" cy="345" r="5"/></g>
<g id="d-v29"><text class="lb" x="226" y="400">v<tspan class="sb" dy="4">29</tspan></text><circle class="n" cx="222.3" cy="401.7" r="5"/></g>
<g id="d-v2"><text class="lb" x="310" y="421">v<tspan class="sb" dy="4">2</tspan></text><circle class="n" cx="325.7" cy="419" r="5"/></g>
<g id="d-v23"><text class="lb" x="242" y="457">v<tspan class="sb" dy="4">23</tspan></text><circle class="n" cx="235.7" cy="456" r="5"/></g>
<g id="d-v14"><text class="lb" x="297" y="477">v<tspan class="sb" dy="4">14</tspan></text><circle class="n" cx="319" cy="475.7" r="5"/></g>
<g id="d-v17"><text class="lb" x="227" y="513">v<tspan class="sb" dy="4">17</tspan></text><circle class="n" cx="222.3" cy="511.7" r="5"/></g>
<g id="d-v11"><text class="lb" x="322" y="538">v<tspan class="sb" dy="4">11</tspan></text><circle class="n" cx="342.3" cy="530" r="5"/></g>
<g id="d-v26"><text class="lb" x="188" y="567">v<tspan class="sb" dy="4">26</tspan></text><circle class="n" cx="178.3" cy="567.3" r="5"/></g>
<g id="d-v8"><text class="lb" x="382" y="564">v<tspan class="sb" dy="4">8</tspan></text><circle class="n" cx="377.7" cy="567.3" r="5"/></g>
</g>

<!-- ============ captions ============ -->
<g id="captions" class="cap">
<text x="8" y="273">(a) Double star snark.</text>
<text y="273"><tspan x="290">(b)</tspan><tspan x="326.5">A</tspan><tspan x="352">configuration</tspan><tspan x="489">of</tspan><tspan x="518">dou-</tspan></text>
<text x="290" y="300">ble star snark.</text>
<text x="622" y="273">(c) Delete internal chords.</text>
<text x="161" y="612">(d) Reduce to the Petersen</text>
<text x="161" y="639">graph.</text>
<text y="612"><tspan x="458">(e)</tspan><tspan x="498">A</tspan><tspan x="528.5">subdivision</tspan><tspan x="654">of</tspan><tspan x="687.5">the</tspan></text>
<text y="639"><tspan x="458">Petersen</tspan><tspan x="550.5">graph</tspan><tspan x="616.5">embedded</tspan></text>
<text x="458" y="666">in double star snark.</text>
</g>
</svg>
